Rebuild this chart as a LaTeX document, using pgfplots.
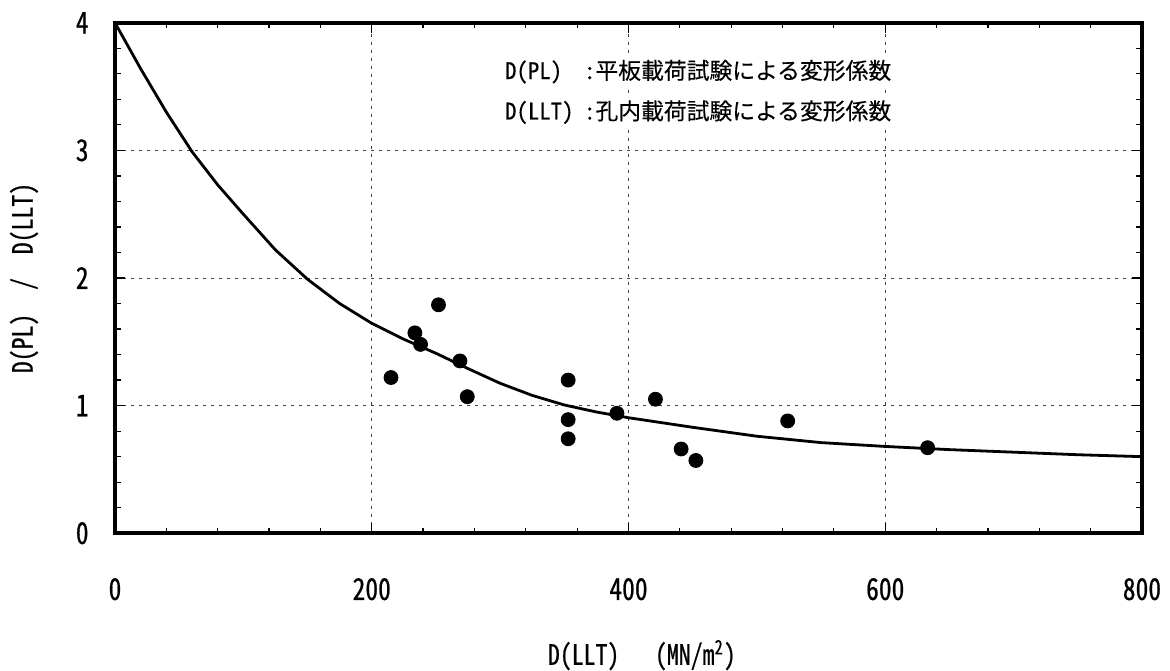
\documentclass[border=0pt]{standalone}
\usepackage{fontspec}
\usepackage{pgfplots}
\pgfplotsset{compat=1.18}
\setmainfont{Noto Sans CJK JP}[RawFeature=+hwid, FakeBold=0.3]
\newfontfamily\jpfont{Noto Sans CJK JP}[FakeBold=0.3]
\newfontfamily\tickfont{Noto Sans CJK JP}[RawFeature=+hwid, FakeStretch=0.85, FakeBold=0.6]

% measured points
\pgfplotstableread{
x y
215 1.22
233.6 1.57
238 1.48
252 1.79
268.7 1.35
274.4 1.07
353 1.20
353 0.89
353 0.74
391 0.94
421 1.05
441 0.66
452.5 0.57
524 0.88
633 0.67
}\pts

% fitted curve
\pgfplotstableread{
x y
0 4.00
20 3.64
40 3.30
60 2.99
80 2.73
100 2.50
125 2.22
150 1.99
175 1.80
200 1.645
225 1.52
250 1.41
275 1.29
300 1.175
325 1.08
350 1.005
375 0.95
400 0.905
450 0.83
500 0.76
550 0.71
600 0.68
650 0.655
700 0.635
750 0.615
800 0.60
}\fit

\begin{document}
\begin{tikzpicture}
\useasboundingbox (-57.5pt,-68.5pt) rectangle (527.5pt,266.6pt);
\begin{axis}[
  anchor=south west, at={(0,0)},
  scale only axis, width=513.5pt, height=255.2pt,
  xmin=0, xmax=800, ymin=0, ymax=4,
  xtick={0,200,400,600,800}, ytick={0,1,2,3,4},
  minor x tick num=4, minor y tick num=4,
  tick align=inside,
  major tick length=5pt, minor tick length=2.8pt,
  every tick/.style={black, line width=0.6pt},
  axis line style={line width=2pt},
  grid=major,
  major grid style={black!75, line width=0.5pt, dash pattern=on 1.5pt off 2.5pt},
  /pgf/number format/assume math mode=true,
  tick label style={font=\tickfont\fontsize{15}{17}\selectfont},
  xticklabel style={anchor=center, yshift=-28pt},
  yticklabel style={anchor=east, inner sep=0pt, xshift=-13pt},
  xlabel={D(LLT)\ \ \ (MN/m\textsuperscript{2})},
  ylabel={D(PL)\ \ /\ \ D(LLT)},
  every axis x label/.style={at={(axis description cs:0.513,-0.239)}, anchor=center,
    font=\tickfont\fontsize{14}{16}\selectfont},
  every axis y label/.style={at={(axis description cs:-0.0886,0.5)}, rotate=90, anchor=center,
    font=\tickfont\fontsize{14}{16}\selectfont},
  clip=false,
]
\addplot[black, line width=1.4pt, no markers] table[x=x,y=y] {\fit};
\addplot[only marks, mark=*, mark size=3.5pt, black] table[x=x,y=y] {\pts};
\node[anchor=west, fill=white, inner sep=1pt, font=\fontsize{11.4}{13}\selectfont]
  at (axis cs:302,3.617) {\makebox[39.5pt][l]{D(PL)}:\jpfont 平板載荷試験による変形係数};
\node[anchor=west, fill=white, inner sep=1pt, font=\fontsize{11.4}{13}\selectfont]
  at (axis cs:302,3.30) {\makebox[39.5pt][l]{D(LLT)}:\jpfont 孔内載荷試験による変形係数};
\end{axis}
\end{tikzpicture}
\end{document}
